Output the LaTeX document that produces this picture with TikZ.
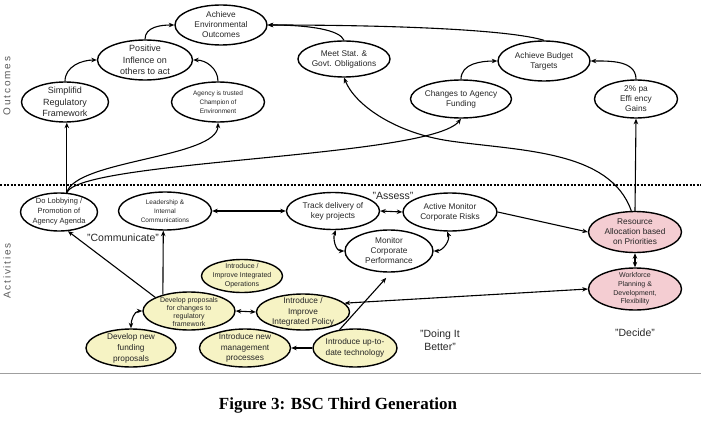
\documentclass[tikz,border=0pt]{standalone}
\usepackage{fontspec}
\setmainfont{Liberation Sans}
\newfontfamily\capfont{Liberation Serif}
\newfontfamily\sidefont[LetterSpace=18]{Liberation Sans}
\usetikzlibrary{shapes.geometric,arrows.meta}
\definecolor{yel}{HTML}{F6F3C4}
\definecolor{pnk}{HTML}{F4CDD2}
\newcommand{\fsz}[2]{\fontsize{#1}{#2}\selectfont}
\begin{document}
\begin{tikzpicture}[x=1pt,y=-1pt,
  ell/.style 2 args={ellipse, draw, line width=1.4pt, inner sep=0pt, minimum width=#1pt, minimum height=#2pt},
  txt/.style 2 args={font=\fsz{#1}{#2}, align=center, inner sep=0pt, text=black!85},
  arr/.style={-{Stealth[length=5.5pt,width=4.5pt]}, line width=1.1pt},
  darr/.style={{Stealth[length=5.5pt,width=4.5pt]}-{Stealth[length=5.5pt,width=4.5pt]}, line width=1.1pt},
  lab/.style={font=\fsz{10.5}{13}, align=center, inner sep=0pt, text=black!85},
]
\useasboundingbox (0,0) rectangle (701,433);

% ---------- Outcomes ----------
\node[ell={92}{40}] (env) at (221,25) {};
\node[txt={8.3}{10}] (envt) at (env) {Achieve\\Environmental\\Outcomes};
\node[ell={95}{40}] (pos) at (145,60) {};
\node[txt={9}{11.5}] (post) at (pos) {Positive\\Inflence on\\others to act};
\node[ell={87}{40}] (simp) at (65,102) {};
\node[txt={9}{11.5}] (simpt) at (simp) {Simplifid\\Regulatory\\Framework};
\node[ell={93}{40}] (agc) at (218,102) {};
\node[txt={6.5}{9}] (agct) at (agc) {Agency is trusted\\Champion of\\Environment};
\node[ell={92}{36}] (meet) at (344,59) {};
\node[txt={8.3}{10}] (meett) at (meet) {Meet Stat. \&\\Govt. Obligations};
\node[ell={92}{40}] (bud) at (544,61) {};
\node[txt={8.3}{10}] (budt) at (bud) {Achieve Budget\\Targets};
\node[ell={101}{38}] (chg) at (461,99) {};
\node[txt={8.3}{10}] (chgt) at (chg) {Changes to Agency\\Funding};
\node[ell={83}{38}] (eff) at (636,99) {};
\node[txt={8.3}{10}] (efft) at (eff) {2\% pa\\Effi ency\\Gains};

% ---------- separators ----------
\coordinate (dl) at (0,185);
\coordinate (dr) at (701,185);
\draw[line width=2.4pt, dash pattern=on 2.2pt off 1.3pt] (dl) -- (dr);
\coordinate (sl) at (0,373);
\coordinate (sr) at (701,373);
\draw[gray!75, line width=0.9pt] (sl) -- (sr);

% ---------- Activities ----------
\node[ell={77}{38}] (lob) at (59,212) {};
\node[txt={7.5}{10}] (lobt) at (lob) {Do Lobbying /\\Promotion of\\Agency Agenda};
\node[ell={93}{38}] (lead) at (165,211) {};
\node[txt={6.5}{9}] (leadt) at (lead) {Leadership \&\\Internal\\Communications};
\node[ell={93}{37}] (trk) at (333,211) {};
\node[txt={8.3}{10}] (trkt) at (trk) {Track delivery of\\key projects};
\node[ell={94}{38}] (act) at (450,212) {};
\node[txt={8.3}{10}] (actt) at (act) {Active Monitor\\Corporate Risks};
\node[ell={88}{42}] (mon) at (389,251) {};
\node[txt={8.3}{10}] (mont) at (mon) {Monitor\\Corporate\\Performance};
\node[ell={93}{41}, fill=pnk] (res) at (635,232) {};
\node[txt={8.3}{10}] (rest) at (res) {Resource\\Allocation based\\on Priorities};
\node[ell={93}{42}, fill=pnk] (wf) at (635,289) {};
\node[txt={7}{8.7}] (wft) at (wf) {Workforce\\Planning \&\\Development,\\Flexibility};

\node[ell={81}{33}, fill=yel] (ops) at (242,276) {};
\node[txt={7}{9}] (opst) at (ops) {Introduce /\\Improve Integrated\\Operations};
\node[ell={92}{38}, fill=yel] (prop) at (189,311) {};
\node[txt={7}{8.3}] (propt) at (189,312) {Develop proposals\\for changes to\\regulatory\\framework};
\node[ell={93}{36}, fill=yel] (pol) at (303,312) {};
\node[txt={8.3}{10.5}] (polt) at (pol) {Introduce /\\Improve\\Integrated Policy};
\node[ell={90}{38}, fill=yel] (fund) at (131,348) {};
\node[txt={8.3}{11}] (fundt) at (fund) {Develop new\\funding\\proposals};
\node[ell={91}{38}, fill=yel] (mgmt) at (245,348) {};
\node[txt={8.3}{10.5}] (mgmtt) at (mgmt) {Introduce new\\management\\processes};
\node[ell={84}{38}, fill=yel] (tech) at (355,348) {};
\node[txt={8.3}{10.5}] (techt) at (tech) {Introduce up-to-\\date technology};

% ---------- labels ----------
\node[lab] (comm) at (123,238) {"Communicate"};
\node[lab] (assess) at (393,196) {"Assess"};
\node[lab] (doing) at (440,340) {"Doing It\\Better"};
\node[lab] (decide) at (635,333) {"Decide"};
\node[rotate=90, font=\sidefont\fsz{10}{12}, text=gray!70!black, inner sep=0pt] (outl) at (7,86) {Outcomes};
\node[rotate=90, font=\sidefont\fsz{10}{12}, text=gray!70!black, inner sep=0pt] (actl) at (7,271) {Activities};
\node[font=\capfont\bfseries\fsz{17}{20}, inner sep=0pt] (cap) at (338,405) {Figure 3: BSC Third Generation};

% ---------- outcome connectors ----------
\draw[arr] (simp.north) to[out=90,in=180] (pos.west);
\draw[arr] (pos.north) to[out=90,in=180] (env.west);
\draw[arr] (agc.north) to[out=90,in=0] (pos.east);
\draw[arr] (bud.north) .. controls (510,30) and (400,25) .. (env.east);
\draw[arr] (meet.north) .. controls (340,30) and (310,25) .. (env.east);
\draw[arr] (chg.north) to[out=90,in=180] (bud.west);
\draw[arr] (eff.north) to[out=90,in=0] (bud.east);

% ---------- activity -> outcome ----------
\draw[arr] (lob.68) -- (lob.68 |- simp.south);
\draw[arr] (lob.68) .. controls (75,160) and (218,158) .. (agc.south);
\draw[arr] (lob.68) .. controls (80,160) and (430,158) .. (chg.south);
\draw[arr] (res.north) -- (eff.south);
\draw[arr] (res.100) .. controls (610,150) and (520,151) .. (450,141) .. controls (395,133) and (355,105) .. (meet.south);

% ---------- activity connectors ----------
\draw[darr] (lead.east) -- (trk.west);
\draw[darr] (trk.east) -- (act.west);
\draw[darr] (trk.278) to[out=-110,in=180] (mon.west);
\draw[darr] (act.262) to[out=-70,in=0] (mon.east);
\draw[arr] (act.east) -- (res.west);
\draw[darr] (res.south) -- (wf.north);
\draw[darr] (pol.12) -- (wf.west);
\draw[darr] (prop.east) -- (pol.west);
\draw[arr] (prop.158) -- (lob.-65);
\draw[arr] (prop.148) -- (lead.-95);
\draw[darr] (fund.north) to[out=90,in=180] (prop.west);
\draw[arr] (tech.west) -- (mgmt.east);
\draw[arr, shorten >=7pt] (tech.130) -- (mon.-85);
\end{tikzpicture}
\end{document}
